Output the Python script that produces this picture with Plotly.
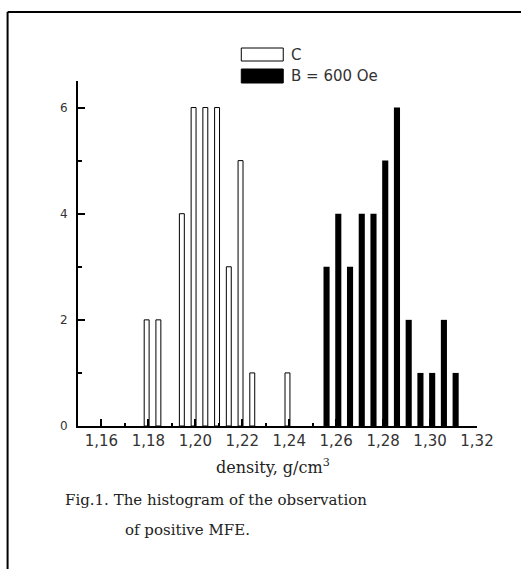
import plotly.graph_objects as go

# ---- data ----
c_density = [1.180, 1.185, 1.195, 1.200, 1.205, 1.210, 1.215, 1.220, 1.225, 1.240]
c_counts = [2, 2, 4, 6, 6, 6, 3, 5, 1, 1]
b_density = [1.255, 1.260, 1.265, 1.270, 1.275, 1.280, 1.285, 1.290, 1.295, 1.300, 1.305, 1.310]
b_counts = [3, 4, 3, 4, 4, 5, 6, 2, 1, 1, 2, 1]
x_tickvals = [1.16, 1.18, 1.20, 1.22, 1.24, 1.26, 1.28, 1.30, 1.32]
x_ticktext = ["1,16", "1,18", "1,20", "1,22", "1,24", "1,26", "1,28", "1,30", "1,32"]
y_tickvals = [0, 2, 4, 6]
legend_names = ["C", "B = 600 Oe"]

W, H = 521, 569
L, R, T, B = 77.5, 477, 81, 426  # plot area in pixels


def px(x):
    return (x - L) / (R - L)


def py(y):
    return (B - y) / (B - T)


fig = go.Figure()
fig.add_trace(go.Bar(x=c_density, y=c_counts, width=0.0021, offset=-0.0018,
                     marker=dict(color="white", line=dict(color="black", width=1)),
                     name=legend_names[0], showlegend=False))
fig.add_trace(go.Bar(x=b_density, y=b_counts, width=0.0026, offset=-0.0004,
                     marker=dict(color="black", line=dict(color="black", width=0)),
                     name=legend_names[1], showlegend=False))

font_sans = "DejaVu Sans"
font_serif = "DejaVu Serif"

fig.update_layout(
    width=W, height=H,
    margin=dict(l=L, r=W - R, t=T, b=H - B, pad=0),
    paper_bgcolor="white", plot_bgcolor="white",
    barmode="overlay",
    xaxis=dict(range=[1.15, 1.32], tickvals=x_tickvals, ticktext=x_ticktext,
               ticks="inside", ticklen=7, tickwidth=1.5, tickcolor="black",
               minor=dict(tickmode="linear", tick0=1.15, dtick=0.01, ticks="inside",
                          ticklen=3, tickwidth=1.5, tickcolor="black"),
               showline=True, linecolor="black", linewidth=2, showgrid=False, zeroline=False,
               tickfont=dict(family=font_sans, size=15, color="#333")),
    yaxis=dict(range=[0, 6.5], tickvals=y_tickvals,
               ticks="inside", ticklen=7, tickwidth=1.5, tickcolor="black",
               minor=dict(tickmode="linear", tick0=0, dtick=1, ticks="inside",
                          ticklen=4, tickwidth=1.5, tickcolor="black"),
               showline=True, linecolor="black", linewidth=2, showgrid=False, zeroline=False,
               ticklabelstandoff=6,
               tickfont=dict(family=font_sans, size=12, color="#333")),
)

shapes = [
    # outer frame (left and top)
    dict(type="line", xref="paper", yref="paper", x0=px(7), x1=px(7), y0=py(12), y1=py(H + 5),
         line=dict(color="black", width=2)),
    dict(type="line", xref="paper", yref="paper", x0=px(7), x1=px(W + 5), y0=py(12), y1=py(12),
         line=dict(color="black", width=2)),
    # legend swatches
    dict(type="rect", xref="paper", yref="paper", x0=px(241), x1=px(283), y0=py(61), y1=py(48),
         line=dict(color="black", width=1), fillcolor="white"),
    dict(type="rect", xref="paper", yref="paper", x0=px(241), x1=px(283), y0=py(83), y1=py(69),
         line=dict(color="black", width=1), fillcolor="black"),
]
fig.update_layout(shapes=shapes)

ann = [
    dict(text=legend_names[0], x=px(289), y=py(55), xanchor="left", yanchor="middle",
         font=dict(family=font_sans, size=15, color="#333")),
    dict(text=legend_names[1], x=px(289), y=py(76), xanchor="left", yanchor="middle",
         font=dict(family=font_sans, size=15, color="#333")),
    dict(text="density, g/cm<sup>3</sup>", x=px(273), y=py(467), xanchor="center", yanchor="middle",
         font=dict(family=font_serif, size=16, color="#222")),
    dict(text="Fig.1. The histogram of the observation", x=px(62), y=py(500), xanchor="left",
         yanchor="middle", font=dict(family=font_serif, size=15, color="#222")),
    dict(text="of positive MFE.", x=px(123), y=py(530), xanchor="left",
         yanchor="middle", font=dict(family=font_serif, size=15, color="#222")),
]
for a in ann:
    a.update(xref="paper", yref="paper", showarrow=False)
fig.update_layout(annotations=ann)

fig.write_html("out.html")
